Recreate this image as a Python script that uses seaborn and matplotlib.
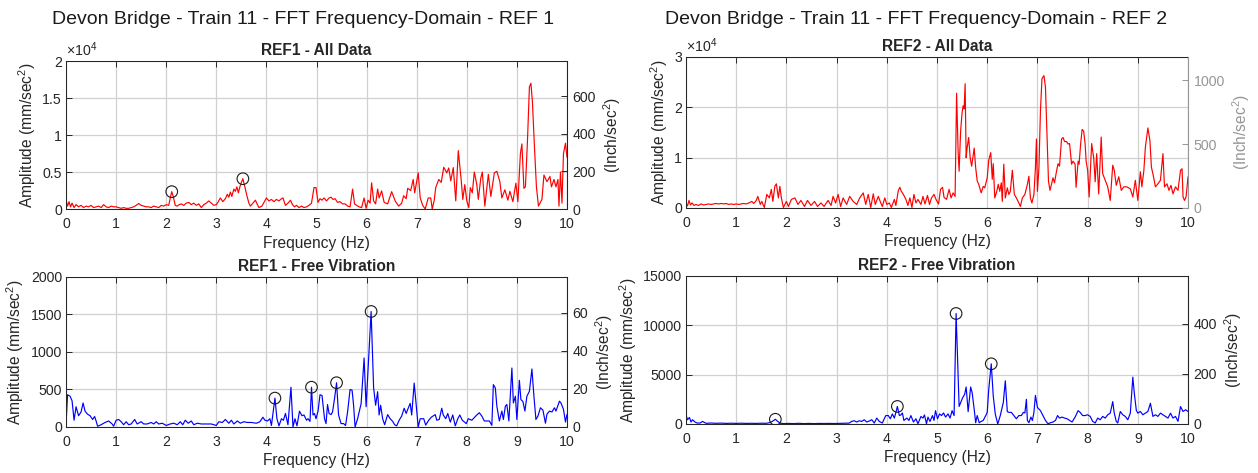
import numpy as np
import matplotlib
matplotlib.use("Agg")
import matplotlib.pyplot as plt
from matplotlib.ticker import FuncFormatter
import seaborn as sns

# ---------------- data ----------------
# REF1, full record (amplitude in units of 1e4 mm/sec^2)
ref1_all_freq = [0.00, 0.03, 0.06, 0.09, 0.12, 0.16, 0.2, 0.25, 0.3, 0.35, 0.4, 0.45, 0.5, 0.55, 0.6, 0.65, 0.7, 0.75, 0.8, 0.85,
                 0.9, 0.95, 1.0, 1.05, 1.1, 1.15, 1.2, 1.25, 1.3, 1.35, 1.4, 1.45, 1.5, 1.55, 1.6, 1.65, 1.7, 1.75, 1.8, 1.85,
                 1.9, 1.95, 2.0, 2.05, 2.08, 2.11, 2.14, 2.18, 2.22, 2.26, 2.3, 2.35, 2.4, 2.45, 2.5, 2.55, 2.6, 2.65, 2.7, 2.75,
                 2.8, 2.85, 2.9, 2.95, 3.0, 3.04, 3.08, 3.13, 3.18, 3.22, 3.25, 3.28, 3.31, 3.35, 3.38, 3.41, 3.44, 3.47, 3.5, 3.53,
                 3.57, 3.61, 3.65, 3.68, 3.73, 3.78, 3.82, 3.85, 3.91, 3.96, 4.0, 4.05, 4.1, 4.15, 4.2, 4.25, 4.3, 4.33, 4.38, 4.43,
                 4.48, 4.52, 4.56, 4.6, 4.65, 4.7, 4.75, 4.8, 4.85, 4.9, 4.95, 4.99, 5.03, 5.07, 5.11, 5.15, 5.2, 5.25, 5.29, 5.33,
                 5.37, 5.42, 5.47, 5.52, 5.57, 5.62, 5.67, 5.72, 5.76, 5.8, 5.85, 5.9, 5.95, 5.99, 6.03, 6.07, 6.1, 6.14, 6.18, 6.22,
                 6.25, 6.3, 6.35, 6.42, 6.5, 6.57, 6.64, 6.7, 6.74, 6.79, 6.82, 6.88, 6.93, 6.96, 7.03, 7.07, 7.12, 7.17, 7.23, 7.28,
                 7.31, 7.35, 7.38, 7.44, 7.49, 7.54, 7.6, 7.64, 7.68, 7.73, 7.78, 7.83, 7.89, 7.92, 7.96, 8.0, 8.04, 8.07, 8.11, 8.15,
                 8.2, 8.23, 8.28, 8.31, 8.36, 8.43, 8.48, 8.55, 8.6, 8.66, 8.7, 8.76, 8.82, 8.86, 8.92, 8.98, 9.02, 9.07, 9.1, 9.14,
                 9.17, 9.21, 9.25, 9.28, 9.31, 9.35, 9.39, 9.43, 9.5, 9.54, 9.6, 9.66, 9.69, 9.74, 9.78, 9.82, 9.84, 9.87, 9.9, 9.93,
                 9.97, 10.0]
ref1_all_amp_e4 = [0.12, 0.04, 0.10, 0.03, 0.08, 0.02, 0.06, 0.03, 0.05, 0.02, 0.04, 0.03, 0.05, 0.02, 0.03, 0.04, 0.02, 0.06, 0.03, 0.02,
                   0.04, 0.03, 0.03, 0.02, 0.01, 0.02, 0.01, 0.01, 0.02, 0.03, 0.05, 0.075, 0.05, 0.04, 0.03, 0.03, 0.02, 0.04, 0.03, 0.02,
                   0.05, 0.04, 0.06, 0.05, 0.15, 0.235, 0.17, 0.05, 0.04, 0.06, 0.07, 0.05, 0.08, 0.09, 0.06, 0.08, 0.05, 0.07, 0.02, 0.06,
                   0.08, 0.11, 0.08, 0.05, 0.06, 0.10, 0.15, 0.10, 0.14, 0.20, 0.16, 0.23, 0.17, 0.27, 0.24, 0.30, 0.22, 0.30, 0.36, 0.41,
                   0.30, 0.18, 0.08, 0.04, 0.08, 0.12, 0.06, 0.02, 0.04, 0.10, 0.15, 0.11, 0.13, 0.10, 0.13, 0.11, 0.14, 0.15, 0.05, 0.08,
                   0.12, 0.06, 0.03, 0.05, 0.02, 0.04, 0.02, 0.03, 0.05, 0.08, 0.29, 0.29, 0.09, 0.14, 0.12, 0.15, 0.11, 0.15, 0.16, 0.13,
                   0.14, 0.09, 0.10, 0.07, 0.07, 0.04, 0.03, 0.27, 0.07, 0.05, 0.03, 0.02, 0.15, 0.01, 0.12, 0.08, 0.355, 0.11, 0.07, 0.27,
                   0.15, 0.245, 0.09, 0.07, 0.235, 0.11, 0.04, 0.08, 0.18, 0.14, 0.28, 0.25, 0.40, 0.22, 0.49, 0.15, 0.05, 0.0, 0.15, 0.15,
                   0.0, 0.12, 0.29, 0.40, 0.36, 0.565, 0.49, 0.555, 0.38, 0.56, 0.11, 0.79, 0.38, 0.13, 0.33, 0.11, 0.02, 0.29, 0.22, 0.50,
                   0.33, 0.13, 0.42, 0.50, 0.04, 0.47, 0.17, 0.49, 0.51, 0.37, 0.15, 0.26, 0.12, 0.24, 0.10, 0.35, 0.10, 0.75, 0.88, 0.28,
                   0.30, 0.90, 1.65, 1.70, 1.45, 0.85, 0.30, 0.04, 0.13, 0.46, 0.37, 0.44, 0.30, 0.40, 0.30, 0.40, 0.04, 0.50, 0.08, 0.75,
                   0.89, 0.70]

# REF2, full record (amplitude in units of 1e4 mm/sec^2)
ref2_all_freq = [0.00, 0.03, 0.06, 0.09, 0.12, 0.16, 0.2, 0.25, 0.3, 0.35, 0.4, 0.45, 0.5, 0.55, 0.6, 0.65, 0.7, 0.75, 0.8, 0.85,
                 0.9, 0.95, 1.0, 1.05, 1.1, 1.15, 1.2, 1.25, 1.31, 1.35, 1.4, 1.43, 1.48, 1.51, 1.56, 1.61, 1.66, 1.7, 1.73, 1.77,
                 1.8, 1.84, 1.87, 1.9, 1.94, 2.0, 2.04, 2.1, 2.17, 2.23, 2.29, 2.36, 2.42, 2.49, 2.56, 2.62, 2.69, 2.75, 2.83, 2.89,
                 2.93, 2.98, 3.03, 3.08, 3.13, 3.2, 3.26, 3.33, 3.4, 3.46, 3.53, 3.58, 3.63, 3.68, 3.73, 3.77, 3.83, 3.88, 3.91, 3.96,
                 4.0, 4.05, 4.09, 4.15, 4.18, 4.23, 4.26, 4.29, 4.33, 4.38, 4.42, 4.46, 4.5, 4.54, 4.58, 4.62, 4.68, 4.72, 4.76, 4.81,
                 4.85, 4.89, 4.94, 4.98, 5.03, 5.07, 5.11, 5.14, 5.19, 5.24, 5.28, 5.32, 5.36, 5.39, 5.42, 5.44, 5.47, 5.5, 5.52, 5.54,
                 5.56, 5.58, 5.6, 5.63, 5.66, 5.69, 5.74, 5.77, 5.8, 5.83, 5.88, 5.92, 5.95, 6.0, 6.03, 6.07, 6.1, 6.12, 6.15, 6.19,
                 6.22, 6.25, 6.28, 6.3, 6.33, 6.36, 6.4, 6.43, 6.46, 6.5, 6.54, 6.58, 6.63, 6.66, 6.7, 6.75, 6.8, 6.83, 6.86, 6.89,
                 6.93, 6.96, 6.98, 7.0, 7.03, 7.06, 7.09, 7.13, 7.16, 7.19, 7.22, 7.25, 7.28, 7.31, 7.34, 7.38, 7.41, 7.44, 7.48, 7.51,
                 7.54, 7.58, 7.61, 7.64, 7.68, 7.71, 7.75, 7.77, 7.81, 7.83, 7.86, 7.89, 7.92, 7.95, 7.97, 8.0, 8.03, 8.08, 8.12, 8.15,
                 8.18, 8.22, 8.27, 8.3, 8.35, 8.4, 8.45, 8.5, 8.53, 8.57, 8.62, 8.67, 8.72, 8.78, 8.85, 8.9, 8.95, 9.0, 9.05, 9.08,
                 9.12, 9.15, 9.2, 9.24, 9.27, 9.3, 9.35, 9.4, 9.45, 9.5, 9.53, 9.58, 9.62, 9.66, 9.7, 9.75, 9.8, 9.85, 9.88, 9.9,
                 9.93, 9.96, 10.0]
ref2_all_amp_e4 = [0.10, 0.04, 0.15, 0.06, 0.10, 0.05, 0.07, 0.05, 0.08, 0.06, 0.07, 0.08, 0.07, 0.08, 0.09, 0.08, 0.09, 0.08, 0.09, 0.07,
                   0.08, 0.07, 0.08, 0.07, 0.08, 0.09, 0.08, 0.10, 0.13, 0.09, 0.15, 0.23, 0.07, 0.13, 0.01, 0.27, 0.20, 0.37, 0.13, 0.43,
                   0.48, 0.20, 0.43, 0.20, 0.01, 0.13, 0.03, 0.17, 0.20, 0.07, 0.15, 0.03, 0.15, 0.05, 0.13, 0.03, 0.10, 0.03, 0.15, 0.05,
                   0.23, 0.10, 0.27, 0.03, 0.20, 0.07, 0.23, 0.13, 0.07, 0.20, 0.30, 0.07, 0.27, 0.01, 0.28, 0.07, 0.23, 0.10, 0.03, 0.20,
                   0.07, 0.10, 0.01, 0.17, 0.05, 0.35, 0.41, 0.33, 0.27, 0.17, 0.05, 0.20, 0.01, 0.27, 0.10, 0.17, 0.07, 0.23, 0.08, 0.25,
                   0.07, 0.20, 0.27, 0.17, 0.08, 0.37, 0.41, 0.21, 0.17, 0.37, 0.20, 0.30, 0.23, 2.28, 1.13, 0.73, 1.53, 1.90, 2.03, 1.97,
                   2.47, 1.00, 1.20, 1.40, 1.00, 0.83, 1.19, 0.80, 0.54, 0.47, 0.30, 0.43, 0.40, 0.60, 0.95, 1.10, 0.57, 0.88, 0.20, 0.33,
                   0.47, 0.33, 0.50, 0.13, 0.87, 0.20, 0.40, 0.27, 0.33, 0.75, 0.27, 0.20, 0.10, 0.03, 0.20, 0.27, 0.47, 0.63, 0.20, 0.10,
                   0.27, 0.80, 1.37, 0.33, 0.80, 1.93, 2.57, 2.63, 2.40, 1.47, 0.53, 0.35, 0.47, 0.60, 0.50, 0.73, 0.88, 0.83, 1.37, 1.40,
                   1.32, 1.32, 1.27, 1.28, 0.87, 0.93, 0.87, 0.41, 0.93, 0.87, 1.27, 1.56, 1.53, 1.27, 0.93, 0.75, 0.22, 1.28, 1.00, 0.52,
                   1.08, 0.28, 1.41, 0.68, 0.55, 0.42, 0.15, 0.85, 0.75, 0.45, 0.62, 0.35, 0.42, 0.42, 0.38, 0.22, 0.55, 0.15, 0.72, 0.42,
                   0.75, 1.21, 1.59, 1.34, 0.81, 0.68, 0.42, 0.48, 0.55, 1.08, 0.42, 0.48, 0.35, 0.45, 0.28, 0.42, 0.35, 0.75, 0.78, 0.22,
                   0.15, 0.22, 0.62]

# REF1, free-vibration segment (mm/sec^2)
ref1_free_freq = [0.00, 0.03, 0.08, 0.12, 0.16, 0.2, 0.25, 0.3, 0.34, 0.38, 0.43, 0.48, 0.53, 0.57, 0.6, 0.63, 0.7, 0.78, 0.85, 0.92,
                  0.95, 1.0, 1.05, 1.1, 1.15, 1.2, 1.25, 1.3, 1.37, 1.42, 1.5, 1.55, 1.62, 1.7, 1.75, 1.8, 1.85, 1.92, 2.0, 2.08,
                  2.15, 2.22, 2.28, 2.33, 2.38, 2.44, 2.5, 2.55, 2.62, 2.7, 2.8, 2.9, 3.0, 3.05, 3.12, 3.18, 3.25, 3.3, 3.35, 3.42,
                  3.48, 3.55, 3.62, 3.7, 3.8, 3.87, 3.93, 3.97, 4.02, 4.07, 4.1, 4.17, 4.21, 4.25, 4.3, 4.34, 4.38, 4.43, 4.49, 4.53,
                  4.57, 4.61, 4.66, 4.71, 4.75, 4.8, 4.83, 4.87, 4.9, 4.93, 4.96, 4.99, 5.03, 5.07, 5.11, 5.16, 5.19, 5.22, 5.25, 5.29,
                  5.32, 5.36, 5.4, 5.44, 5.49, 5.54, 5.58, 5.62, 5.67, 5.71, 5.74, 5.77, 5.82, 5.89, 5.95, 5.99, 6.09, 6.14, 6.18, 6.22,
                  6.25, 6.28, 6.32, 6.36, 6.42, 6.47, 6.52, 6.56, 6.6, 6.65, 6.7, 6.75, 6.79, 6.83, 6.87, 6.9, 6.95, 6.99, 7.03, 7.07,
                  7.14, 7.18, 7.24, 7.29, 7.37, 7.4, 7.45, 7.5, 7.53, 7.58, 7.62, 7.67, 7.72, 7.77, 7.82, 7.86, 7.91, 7.99, 8.03, 8.1,
                  8.2, 8.25, 8.3, 8.35, 8.4, 8.45, 8.5, 8.53, 8.57, 8.6, 8.65, 8.7, 8.73, 8.77, 8.8, 8.84, 8.9, 8.93, 8.97, 9.0,
                  9.05, 9.08, 9.12, 9.16, 9.2, 9.25, 9.3, 9.34, 9.38, 9.42, 9.47, 9.52, 9.57, 9.6, 9.65, 9.7, 9.75, 9.78, 9.85, 9.88,
                  9.93, 9.97, 10.0]
ref1_free_amp = [40, 430, 410, 350, 90, 270, 150, 200, 320, 210, 170, 150, 100, 140, 80, 10, 30, 60, 80, 40,
                 10, 90, 100, 70, 30, 70, 30, 40, 100, 40, 70, 40, 40, 60, 40, 70, 40, 50, 20, 40,
                 50, 30, 70, 30, 90, 50, 80, 30, 50, 40, 40, 40, 20, 70, 60, 100, 50, 90, 40, 80,
                 50, 70, 60, 60, 50, 70, 130, 90, 80, 110, 20, 385, 110, 15, 110, 90, 180, 30, 530, 0,
                 110, 15, 210, 150, 160, 90, 110, 75, 530, 160, 180, 110, 210, 430, 420, 110, 45, 300, 180, 165,
                 200, 380, 590, 160, 45, 45, 20, 200, 500, 490, 290, 0, 110, 310, 920, 270, 1540, 520, 290, 470,
                 160, 290, 110, 30, 165, 110, 75, 30, 15, 90, 145, 250, 180, 250, 315, 160, 585, 290, 0, 110,
                 110, 25, 90, 130, 165, 90, 100, 250, 160, 110, 180, 65, 160, 15, 110, 160, 90, 45, 110, 90,
                 160, 190, 145, 80, 80, 80, 22, 565, 520, 278, 80, 212, 100, 278, 300, 80, 786, 320, 410, 100,
                 622, 366, 340, 212, 410, 477, 773, 410, 100, 145, 256, 225, 50, 170, 212, 200, 256, 212, 344, 320,
                 235, 66, 168]

# REF2, free-vibration segment (mm/sec^2)
ref2_free_freq = [0.00, 0.03, 0.07, 0.1, 0.13, 0.18, 0.22, 0.28, 0.33, 0.4, 0.5, 0.6, 0.7, 0.8, 0.9, 1.0, 1.1, 1.2, 1.3, 1.4,
                  1.5, 1.6, 1.68, 1.73, 1.78, 1.83, 1.88, 1.95, 2.05, 2.15, 2.25, 2.35, 2.45, 2.55, 2.65, 2.75, 2.85, 2.95, 3.05, 3.15,
                  3.25, 3.3, 3.35, 3.4, 3.45, 3.5, 3.55, 3.6, 3.65, 3.7, 3.75, 3.8, 3.85, 3.91, 3.98, 4.03, 4.07, 4.11, 4.15, 4.19,
                  4.21, 4.25, 4.28, 4.31, 4.34, 4.4, 4.44, 4.48, 4.53, 4.58, 4.62, 4.68, 4.72, 4.75, 4.79, 4.82, 4.86, 4.91, 4.94, 4.97,
                  5.01, 5.05, 5.09, 5.13, 5.17, 5.22, 5.26, 5.3, 5.34, 5.38, 5.44, 5.47, 5.51, 5.55, 5.58, 5.62, 5.67, 5.7, 5.74, 5.77,
                  5.8, 5.84, 5.88, 5.92, 5.97, 6.0, 6.03, 6.08, 6.12, 6.16, 6.21, 6.26, 6.32, 6.36, 6.4, 6.43, 6.48, 6.53, 6.58, 6.63,
                  6.68, 6.72, 6.75, 6.78, 6.8, 6.83, 6.87, 6.9, 6.93, 6.96, 7.0, 7.06, 7.11, 7.16, 7.21, 7.26, 7.31, 7.36, 7.4, 7.44,
                  7.49, 7.54, 7.59, 7.64, 7.69, 7.75, 7.81, 7.85, 7.9, 7.95, 8.0, 8.05, 8.1, 8.15, 8.2, 8.25, 8.3, 8.35, 8.4, 8.45,
                  8.5, 8.53, 8.57, 8.6, 8.65, 8.7, 8.75, 8.8, 8.85, 8.9, 8.93, 8.97, 9.0, 9.05, 9.1, 9.15, 9.2, 9.25, 9.3, 9.35,
                  9.4, 9.45, 9.5, 9.55, 9.6, 9.65, 9.7, 9.75, 9.8, 9.85, 9.9, 9.95, 10.0]
ref2_free_amp = [930, 430, 660, 200, 430, 200, 100, 100, 260, 70, 100, 70, 90, 60, 80, 60, 80, 60, 70, 60,
                 80, 70, 150, 300, 480, 250, 80, 40, 60, 40, 70, 40, 60, 40, 60, 50, 60, 50, 60, 60,
                 90, 267, 330, 200, 330, 260, 430, 200, 300, 434, 100, 600, 260, 100, 855, 855, 530, 1020, 600, 1350,
                 1780, 855, 920, 1120, 360, 600, 360, 855, 200, 530, 30, 760, 600, 920, 30, 700, 260, 855, 360, 1350,
                 530, 1020, 855, 1120, 700, 1020, 600, 1350, 855, 11200, 1780, 2170, 2660, 3000, 3750, 1250, 3750, 3160, 1500, 130,
                 855, 130, 260, 360, 855, 1180, 3490, 6100, 2830, 1020, 0, 855, 2170, 4380, 1250, 1180, 1180, 855, 530, 855,
                 855, 1180, 1120, 2500, 360, 130, 700, 360, 1180, 2900, 1680, 1350, 855, 360, 30, 130, 200, 360, 855, 600,
                 700, 600, 530, 360, 200, 700, 1350, 1180, 855, 855, 935, 770, 267, 100, 600, 430, 770, 600, 935, 1100,
                 2270, 1100, 267, 100, 1270, 935, 770, 430, 1100, 4750, 3100, 1370, 1100, 1270, 935, 1100, 1270, 2100, 770, 935,
                 770, 1100, 935, 770, 600, 1100, 600, 770, 267, 1770, 1270, 1440, 1270]

# picked peak frequencies (Hz)
ref1_all_peaks = [2.11, 3.53]
ref1_free_peaks = [4.17, 4.9, 5.4, 6.09]
ref2_free_peaks = [1.78, 4.21, 5.38, 6.08]

# axis settings
xticks = list(range(0, 11))
MM_PER_INCH = 25.4

# ---------------- style ----------------
sns.set_theme(style="white")
plt.rcParams["font.family"] = ["Liberation Sans", "DejaVu Sans"]
plt.rcParams["mathtext.fontset"] = "custom"
plt.rcParams["mathtext.rm"] = "Liberation Sans"
plt.rcParams["mathtext.it"] = "Liberation Sans:italic"
plt.rcParams["mathtext.bf"] = "Liberation Sans:bold"

TXT = "#262626"
GRID = "#d0d0d0"
TICK_FS = 10.2
LABEL_FS = 11.2
TITLE_FS = 11.2

fig = plt.figure(figsize=(12.58, 4.73), dpi=100)
fig.patch.set_facecolor("white")

boxes = {
    "tl": [0.0525, 0.558, 0.3982, 0.313],
    "tr": [0.5453, 0.5603, 0.3991, 0.3192],
    "bl": [0.0525, 0.0973, 0.3982, 0.3171],
    "br": [0.5453, 0.1036, 0.3991, 0.3129],
}


def make_panel(key, freq, amp, color, title, ymax, yticks, yfmt, rticks,
               peaks=None, exp_label=None, right_color=TXT):
    ax = fig.add_axes(boxes[key])
    freq = np.asarray(freq, dtype=float)
    amp = np.asarray(amp, dtype=float)
    sns.lineplot(x=freq, y=amp, ax=ax, color=color, linewidth=0.85, sort=True)
    if peaks:
        pk = np.asarray(peaks, dtype=float)
        pv = np.interp(pk, freq, amp)
        sns.scatterplot(x=pk, y=pv, ax=ax, s=70, marker="o", facecolor="none",
                        edgecolor="#1a1a1a", linewidth=0.8, zorder=5)
    ax.set_xlim(0, 10)
    ax.set_ylim(0, ymax)
    ax.set_xticks(xticks)
    ax.set_yticks(yticks)
    ax.yaxis.set_major_formatter(FuncFormatter(yfmt))
    ax.grid(True, color=GRID, linewidth=0.9)
    ax.set_axisbelow(True)
    for sp in ax.spines.values():
        sp.set_color(TXT)
        sp.set_linewidth(0.75)
    ax.tick_params(axis="both", direction="in", length=4, width=0.7,
                   labelsize=TICK_FS, colors=TXT, pad=3)
    ax.tick_params(axis="x", top=True, pad=6)
    ax.set_xlabel("Frequency (Hz)", fontsize=LABEL_FS, color=TXT, labelpad=3)
    ax.set_ylabel(r"Amplitude (mm/sec$^2$)", fontsize=LABEL_FS, color=TXT, labelpad=3)
    ax.set_title(title, fontsize=TITLE_FS, fontweight="bold", color=TXT, pad=4)
    if exp_label:
        ax.text(0.0, 1.015, exp_label, transform=ax.transAxes, ha="left",
                va="bottom", fontsize=TICK_FS, color=TXT)

    rax = ax.twinx()
    rax.set_ylim(0, ymax / MM_PER_INCH)
    rax.set_yticks(rticks)
    rax.yaxis.set_major_formatter(FuncFormatter(lambda v, p: f"{v:g}"))
    rax.tick_params(axis="y", direction="in", length=4, width=0.7,
                    labelsize=TICK_FS, colors=right_color, pad=4)
    rax.spines["right"].set_color(right_color)
    rax.spines["right"].set_linewidth(0.75)
    for s in ("left", "top", "bottom"):
        rax.spines[s].set_visible(False)
    rax.set_ylabel(r"(Inch/sec$^2$)", fontsize=LABEL_FS, color=right_color, labelpad=4)
    rax.grid(False)
    return ax


e4 = 1e4
make_panel("tl", ref1_all_freq, np.asarray(ref1_all_amp_e4) * e4, "#ff0000",
           "REF1 - All Data", 2e4, [0, 5000, 10000, 15000, 20000],
           lambda v, p: f"{v / e4:g}", [0, 200, 400, 600],
           peaks=ref1_all_peaks, exp_label=r"$\times10^{4}$")
make_panel("tr", ref2_all_freq, np.asarray(ref2_all_amp_e4) * e4, "#ff0000",
           "REF2 - All Data", 3e4, [0, 10000, 20000, 30000],
           lambda v, p: f"{v / e4:g}", [0, 500, 1000],
           exp_label=r"$\times10^{4}$", right_color="#969696")
make_panel("bl", ref1_free_freq, ref1_free_amp, "#0000ff",
           "REF1 - Free Vibration", 2000, [0, 500, 1000, 1500, 2000],
           lambda v, p: f"{v:g}", [0, 20, 40, 60], peaks=ref1_free_peaks)
make_panel("br", ref2_free_freq, ref2_free_amp, "#0000ff",
           "REF2 - Free Vibration", 15000, [0, 5000, 10000, 15000],
           lambda v, p: f"{v:.0f}", [0, 200, 400], peaks=ref2_free_peaks)

fig.text(0.241, 0.958, "Devon Bridge - Train 11 - FFT Frequency-Domain - REF 1",
         ha="center", va="center", fontsize=14, color="#1a1a1a")
fig.text(0.728, 0.958, "Devon Bridge - Train 11 - FFT Frequency-Domain - REF 2",
         ha="center", va="center", fontsize=14, color="#1a1a1a")

fig.savefig("out.png", dpi=100, facecolor="white")
